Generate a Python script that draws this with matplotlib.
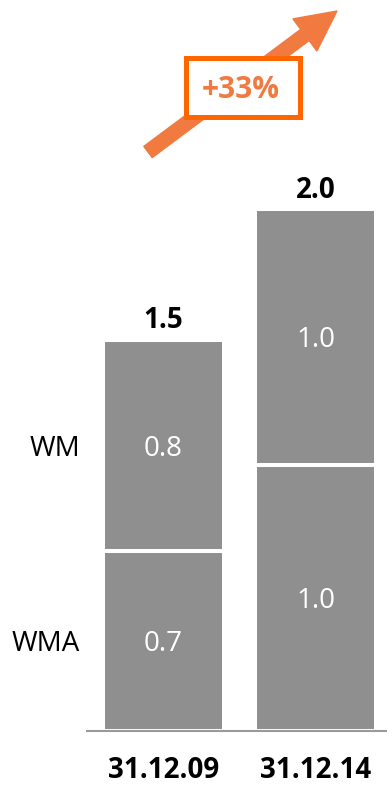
import matplotlib
matplotlib.use('Agg')
import matplotlib.pyplot as plt
from matplotlib.patches import FancyArrow, Rectangle

plt.rcParams['font.family'] = ['Open Sans', 'DejaVu Sans']

dates = ['31.12.09', '31.12.14']
wma = [0.69, 1.02]
wm = [0.81, 0.98]
totals = [1.5, 2.0]
series_names = ['WMA', 'WM']
growth = '+33%'

gray = '#8f8f8f'
orange = '#f07a40'
fs = 20

fig = plt.figure(figsize=(3.87, 7.85), dpi=100)
ax = fig.add_axes([87 / 387, 1 - 731 / 785, 300 / 387, 731 / 785])

x = list(range(len(dates)))
ax.bar(x, wma, width=0.8, color=gray, edgecolor='white', linewidth=2.9)
ax.bar(x, wm, bottom=wma, width=0.8, color=gray, edgecolor='white', linewidth=2.9)

ax.set_xlim(-0.503, 1.47)
ax.set_ylim(0, 731 / 261)

for i in x:
    ax.text(i, wma[i] / 2, '{:.1f}'.format(wma[i]), ha='center',
            va='center_baseline', color='white', fontsize=fs)
    ax.text(i, wma[i] + wm[i] / 2, '{:.1f}'.format(wm[i]), ha='center',
            va='center_baseline', color='white', fontsize=fs)
    ax.annotate('{:.1f}'.format(totals[i]), (i, wma[i] + wm[i]), xytext=(0, 8),
                textcoords='offset points', ha='center', va='baseline',
                fontsize=fs, fontweight='bold')
    ax.annotate(dates[i], (i, 0), xytext=(0, -34), textcoords='offset points',
                ha='center', va='baseline', fontsize=fs, fontweight='bold',
                annotation_clip=False)

# series labels on the left
ax.text(-0.55, wma[0] / 2, series_names[0], ha='right', va='center_baseline',
        fontsize=fs, clip_on=False)
ax.text(-0.55, wma[0] + wm[0] / 2, series_names[1], ha='right',
        va='center_baseline', fontsize=fs, clip_on=False)

for s in ['top', 'right', 'left']:
    ax.spines[s].set_visible(False)
ax.spines['bottom'].set_color('#999999')
ax.spines['bottom'].set_linewidth(1.5)
ax.set_xticks([])
ax.set_yticks([])

# growth arrow + box
tr = fig.dpi_scale_trans
arrow = FancyArrow(1.48, 6.33, 1.89, 1.41, width=0.14, head_width=0.40,
                   head_length=0.40, length_includes_head=True,
                   color=orange, transform=tr, zorder=5)
fig.patches.append(arrow)
box = Rectangle((1.855, 6.685), 1.14, 0.58, facecolor='white', edgecolor='#ff6600',
                linewidth=3.6, transform=tr, zorder=6)
fig.patches.append(box)
fig.text(2.41, 6.95, growth, transform=tr, ha='center', va='center', color=orange,
         fontsize=21.5, fontweight='bold', zorder=7)

fig.savefig('out.png', dpi=100)
